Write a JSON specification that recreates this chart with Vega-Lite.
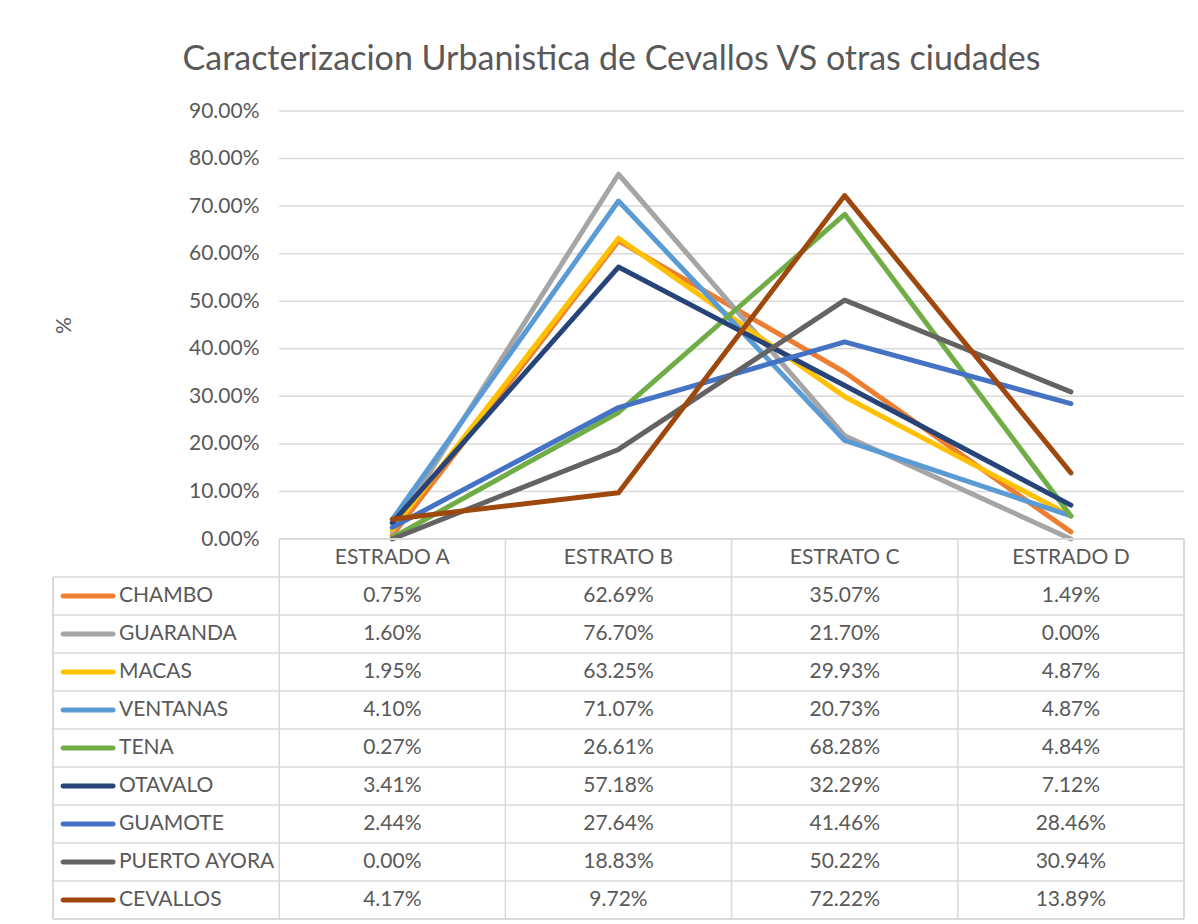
{
  "$schema": "https://vega.github.io/schema/vega-lite/v6.json",
  "background": "white",
  "padding": {"left": 52, "top": 43, "right": 10, "bottom": 0},
  "spacing": 0,
  "bounds": "flush",
  "config": {
    "font": "Lato",
    "view": {"stroke": null},
    "text": {"font": "Lato", "fontSize": 21, "color": "#595959"}
  },
  "title": {
    "text": "Caracterizacion Urbanistica de Cevallos VS otras ciudades",
    "font": "Lato", "fontSize": 34, "fontWeight": "normal", "color": "#595959",
    "anchor": "middle", "offset": 23, "dx": -7
  },
  "datasets": {
    "d": [
      {"serie": "CHAMBO", "estrato": "ESTRADO A", "valor": 0.0075},
      {"serie": "CHAMBO", "estrato": "ESTRATO B", "valor": 0.6269},
      {"serie": "CHAMBO", "estrato": "ESTRATO C", "valor": 0.3507},
      {"serie": "CHAMBO", "estrato": "ESTRADO D", "valor": 0.0149},
      {"serie": "GUARANDA", "estrato": "ESTRADO A", "valor": 0.016},
      {"serie": "GUARANDA", "estrato": "ESTRATO B", "valor": 0.767},
      {"serie": "GUARANDA", "estrato": "ESTRATO C", "valor": 0.217},
      {"serie": "GUARANDA", "estrato": "ESTRADO D", "valor": 0.0},
      {"serie": "MACAS", "estrato": "ESTRADO A", "valor": 0.0195},
      {"serie": "MACAS", "estrato": "ESTRATO B", "valor": 0.6325},
      {"serie": "MACAS", "estrato": "ESTRATO C", "valor": 0.2993},
      {"serie": "MACAS", "estrato": "ESTRADO D", "valor": 0.0487},
      {"serie": "VENTANAS", "estrato": "ESTRADO A", "valor": 0.041},
      {"serie": "VENTANAS", "estrato": "ESTRATO B", "valor": 0.7107},
      {"serie": "VENTANAS", "estrato": "ESTRATO C", "valor": 0.2073},
      {"serie": "VENTANAS", "estrato": "ESTRADO D", "valor": 0.0487},
      {"serie": "TENA", "estrato": "ESTRADO A", "valor": 0.0027},
      {"serie": "TENA", "estrato": "ESTRATO B", "valor": 0.2661},
      {"serie": "TENA", "estrato": "ESTRATO C", "valor": 0.6828},
      {"serie": "TENA", "estrato": "ESTRADO D", "valor": 0.0484},
      {"serie": "OTAVALO", "estrato": "ESTRADO A", "valor": 0.0341},
      {"serie": "OTAVALO", "estrato": "ESTRATO B", "valor": 0.5718},
      {"serie": "OTAVALO", "estrato": "ESTRATO C", "valor": 0.3229},
      {"serie": "OTAVALO", "estrato": "ESTRADO D", "valor": 0.0712},
      {"serie": "GUAMOTE", "estrato": "ESTRADO A", "valor": 0.0244},
      {"serie": "GUAMOTE", "estrato": "ESTRATO B", "valor": 0.2764},
      {"serie": "GUAMOTE", "estrato": "ESTRATO C", "valor": 0.4146},
      {"serie": "GUAMOTE", "estrato": "ESTRADO D", "valor": 0.2846},
      {"serie": "PUERTO AYORA", "estrato": "ESTRADO A", "valor": 0.0},
      {"serie": "PUERTO AYORA", "estrato": "ESTRATO B", "valor": 0.1883},
      {"serie": "PUERTO AYORA", "estrato": "ESTRATO C", "valor": 0.5022},
      {"serie": "PUERTO AYORA", "estrato": "ESTRADO D", "valor": 0.3094},
      {"serie": "CEVALLOS", "estrato": "ESTRADO A", "valor": 0.0417},
      {"serie": "CEVALLOS", "estrato": "ESTRATO B", "valor": 0.0972},
      {"serie": "CEVALLOS", "estrato": "ESTRATO C", "valor": 0.7222},
      {"serie": "CEVALLOS", "estrato": "ESTRADO D", "valor": 0.1389}
    ],
    "cats": [
      {"estrato": "ESTRADO A"}, {"estrato": "ESTRATO B"}, {"estrato": "ESTRATO C"}, {"estrato": "ESTRADO D"}
    ],
    "series": [
      {"serie": "CHAMBO"}, {"serie": "GUARANDA"}, {"serie": "MACAS"}, {"serie": "VENTANAS"}, {"serie": "TENA"},
      {"serie": "OTAVALO"}, {"serie": "GUAMOTE"}, {"serie": "PUERTO AYORA"}, {"serie": "CEVALLOS"}
    ],
    "grid": [
      {"g": 0.1}, {"g": 0.2}, {"g": 0.3}, {"g": 0.4}, {"g": 0.5}, {"g": 0.6}, {"g": 0.7}, {"g": 0.8}, {"g": 0.9}
    ]
  },
  "vconcat": [
    {
      "width": 1131,
      "height": 428,
      "layer": [
        {
          "data": {"name": "grid"},
          "mark": {"type": "rule", "color": "#d9d9d9", "strokeWidth": 1.5},
          "encoding": {
            "y": {"field": "g", "type": "quantitative"},
            "x": {"datum": "ESTRADO A", "bandPosition": 0, "type": "nominal"},
            "x2": {"datum": "ESTRADO D", "bandPosition": 1}
          }
        },
        {
          "data": {"name": "d"},
          "mark": {"type": "line", "strokeWidth": 5, "strokeCap": "round", "strokeJoin": "round"},
          "encoding": {
            "x": {"field": "estrato", "type": "nominal"},
            "y": {"field": "valor", "type": "quantitative"},
            "color": {
              "field": "serie", "type": "nominal", "legend": null,
              "scale": {
                "domain": ["CHAMBO", "GUARANDA", "MACAS", "VENTANAS", "TENA", "OTAVALO", "GUAMOTE", "PUERTO AYORA", "CEVALLOS"],
                "range": ["#ED7D31", "#A5A5A5", "#FFC000", "#5B9BD5", "#70AD47", "#264478", "#4472C4", "#636363", "#9E480E"]
              }
            }
          }
        }
      ],
      "encoding": {
        "x": {
          "type": "nominal",
          "scale": {"type": "band", "domain": [" ", "ESTRADO A", "ESTRATO B", "ESTRATO C", "ESTRADO D"], "paddingInner": 0, "paddingOuter": 0},
          "axis": null
        },
        "y": {
          "type": "quantitative",
          "scale": {"domain": [0, 0.9], "nice": false, "zero": true},
          "axis": {
            "title": "%", "format": ".2%", "values": [0, 0.1, 0.2, 0.3, 0.4, 0.5, 0.6, 0.7, 0.8, 0.9],
            "offset": -226, "domain": false, "ticks": false, "grid": false,
            "labelPadding": 20, "labelFont": "Lato", "labelFontSize": 21, "labelColor": "#595959",
            "titleFont": "Lato", "titleFontSize": 21, "titleColor": "#595959", "titleFontWeight": "normal",
            "titleX": -215, "titleY": 214, "titleAngle": -90, "titleBaseline": "middle", "titleAlign": "center"
          }
        }
      }
    },
    {
      "width": 1131,
      "height": 380,
      "encoding": {
        "x": {
          "type": "nominal",
          "scale": {"type": "band", "domain": [" ", "ESTRADO A", "ESTRATO B", "ESTRATO C", "ESTRADO D"], "paddingInner": 0, "paddingOuter": 0},
          "axis": null
        },
        "y": {
          "type": "nominal",
          "scale": {"type": "band", "domain": ["__h", "CHAMBO", "GUARANDA", "MACAS", "VENTANAS", "TENA", "OTAVALO", "GUAMOTE", "PUERTO AYORA", "CEVALLOS"], "paddingInner": 0, "paddingOuter": 0},
          "axis": null
        }
      },
      "layer": [
        {
          "data": {"name": "series"},
          "mark": {"type": "rule", "color": "#d9d9d9", "strokeWidth": 1.5},
          "encoding": {"y": {"field": "serie", "type": "nominal", "bandPosition": 0}}
        },
        {
          "data": {"name": "series"},
          "mark": {"type": "rule", "color": "#d9d9d9", "strokeWidth": 1.5},
          "encoding": {"y": {"datum": "CEVALLOS", "type": "nominal", "bandPosition": 1}}
        },
        {
          "data": {"name": "series"},
          "mark": {"type": "rule", "color": "#d9d9d9", "strokeWidth": 1.5},
          "encoding": {
            "y": {"datum": "__h", "type": "nominal", "bandPosition": 0},
            "x": {"datum": "ESTRADO A", "type": "nominal", "bandPosition": 0},
            "x2": {"datum": "ESTRADO D", "bandPosition": 1}
          }
        },
        {
          "data": {"name": "cats"},
          "mark": {"type": "rule", "color": "#d9d9d9", "strokeWidth": 1.5},
          "encoding": {"x": {"field": "estrato", "type": "nominal", "bandPosition": 0}}
        },
        {
          "data": {"name": "series"},
          "mark": {"type": "rule", "color": "#d9d9d9", "strokeWidth": 1.5},
          "encoding": {"x": {"datum": "ESTRADO D", "type": "nominal", "bandPosition": 1}}
        },
        {
          "data": {"name": "series"},
          "mark": {"type": "rule", "color": "#d9d9d9", "strokeWidth": 1.5},
          "encoding": {
            "x": {"datum": " ", "type": "nominal", "bandPosition": 0},
            "y": {"datum": "CHAMBO", "type": "nominal", "bandPosition": 0},
            "y2": {"datum": "CEVALLOS", "bandPosition": 1}
          }
        },
        {
          "data": {"name": "cats"},
          "mark": {"type": "text", "baseline": "middle", "align": "center"},
          "encoding": {
            "x": {"field": "estrato", "type": "nominal"},
            "y": {"datum": "__h", "type": "nominal"},
            "text": {"field": "estrato"}
          }
        },
        {
          "data": {"name": "d"},
          "mark": {"type": "text", "baseline": "middle", "align": "center"},
          "encoding": {
            "x": {"field": "estrato", "type": "nominal"},
            "y": {"field": "serie", "type": "nominal"},
            "text": {"field": "valor", "format": ".2%"}
          }
        },
        {
          "data": {"name": "series"},
          "mark": {"type": "text", "baseline": "middle", "align": "left", "dx": 66},
          "encoding": {
            "x": {"datum": " ", "type": "nominal", "bandPosition": 0},
            "y": {"field": "serie", "type": "nominal"},
            "text": {"field": "serie"}
          }
        },
        {
          "data": {"name": "series"},
          "mark": {"type": "tick", "orient": "horizontal", "size": 55, "thickness": 5, "cornerRadius": 2.5, "xOffset": -78, "opacity": 1},
          "encoding": {
            "x": {"datum": " ", "type": "nominal"},
            "y": {"field": "serie", "type": "nominal"},
            "color": {
              "field": "serie", "type": "nominal", "legend": null,
              "scale": {
                "domain": ["CHAMBO", "GUARANDA", "MACAS", "VENTANAS", "TENA", "OTAVALO", "GUAMOTE", "PUERTO AYORA", "CEVALLOS"],
                "range": ["#ED7D31", "#A5A5A5", "#FFC000", "#5B9BD5", "#70AD47", "#264478", "#4472C4", "#636363", "#9E480E"]
              }
            }
          }
        }
      ]
    }
  ]
}
